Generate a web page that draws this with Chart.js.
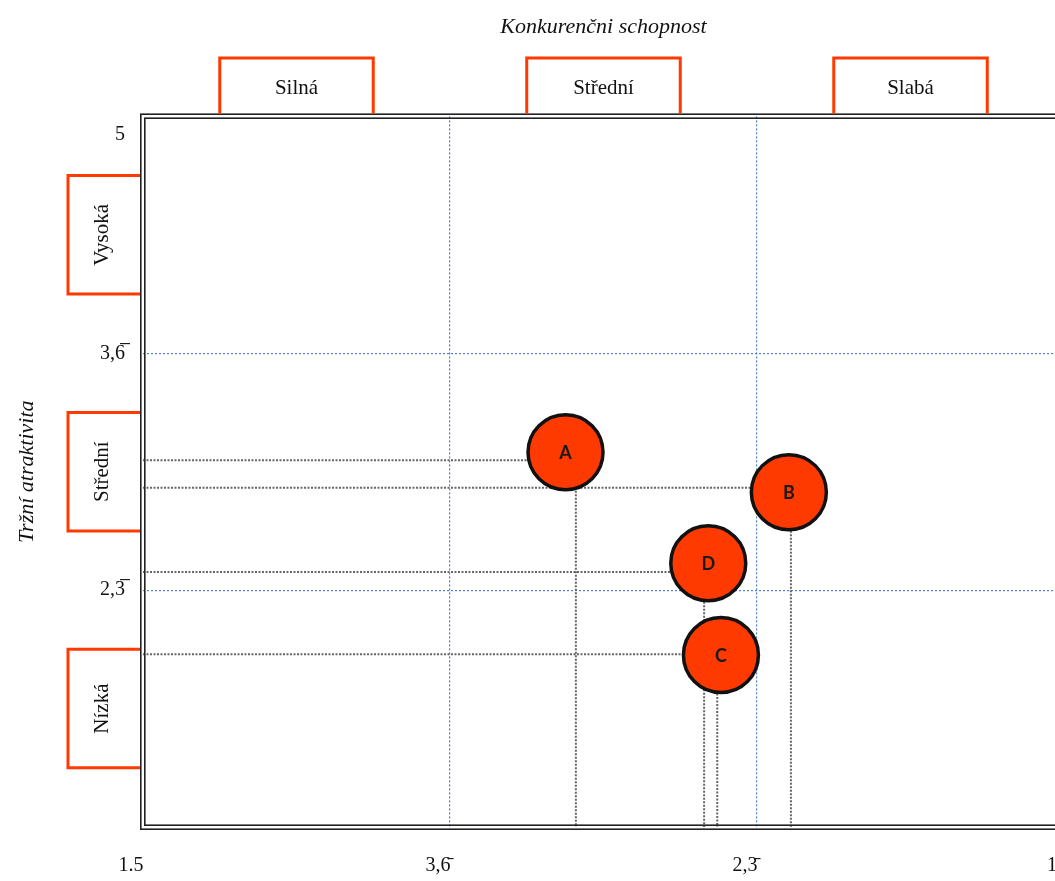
<!DOCTYPE html>
<html>
<head>
<meta charset="utf-8">
<script src="https://cdn.jsdelivr.net/npm/chart.js@4.4.1/dist/chart.umd.min.js"></script>
<style>
  html, body { margin: 0; padding: 0; background: #fff; overflow: hidden; }
  #wrap { width: 1105px; height: 881px; }
</style>
</head>
<body>
<div id="wrap"><canvas id="c" width="1105" height="881"></canvas></div>
<script>
// ---- data ----
const xTitle = 'Konkurenčni schopnost';
const yTitle = 'Tržní atraktivita';
const xCategories = ['Silná', 'Střední', 'Slabá'];          // left -> right
const yCategories = ['Vysoká', 'Střední', 'Nízká'];         // top -> bottom
const xTickValues = [5, 3.6667, 2.3333, 1];
const xTickLabels = ['1.5', '3,6\u0304', '2,3\u0304', '1'];
const yTickValues = [5, 3.6667, 2.3333, 1];
const yTickLabels = ['5', '3,6\u0305', '2,3\u0305', ''];
const unitNames = ['A', 'B', 'C', 'D'];
const unitX = [3.165, 2.195, 2.49, 2.545];   // competitive strength
const unitY = [3.11, 2.885, 1.968, 2.485];   // market attractiveness
const guideX = [3.12, 2.186, 2.506, 2.563];  // vertical drop lines
const guideY = [3.065, 2.91, 1.973, 2.435];  // horizontal drop lines

const RED = '#ff3a00';
const SERIF = '"Liberation Serif", "DejaVu Serif", serif';
const TICKFONT = '"Liberation Serif", serif';

const datasets = [{
  type: 'scatter',
  label: 'units',
  data: unitNames.map((n, i) => ({ x: unitX[i], y: unitY[i] })),
  pointRadius: 37.5,
  pointBackgroundColor: RED,
  pointBorderColor: '#111',
  pointBorderWidth: 3.5,
  order: 0
}];
unitNames.forEach((n, i) => {
  datasets.push({
    type: 'line', label: n + '-h',
    data: [{ x: 5, y: guideY[i] }, { x: unitX[i], y: guideY[i] }],
    borderColor: '#666', borderWidth: 2, borderDash: [2, 1.5],
    pointRadius: 0, fill: false, order: 2
  });
  datasets.push({
    type: 'line', label: n + '-v',
    data: [{ x: guideX[i], y: unitY[i] }, { x: guideX[i], y: 1 }],
    borderColor: '#666', borderWidth: 2, borderDash: [2, 1.5],
    pointRadius: 0, fill: false, order: 2
  });
});

const decor = {
  id: 'decor',
  afterDatasetsDraw(chart) {
    const { ctx, chartArea: ca, scales: { x, y } } = chart;
    ctx.save();
    // unit labels
    ctx.fillStyle = '#1a1a1a';
    ctx.font = 'bold 18px Lato, "Liberation Sans", sans-serif';
    ctx.textAlign = 'center';
    ctx.textBaseline = 'middle';
    unitNames.forEach((n, i) => {
      ctx.fillText(n, x.getPixelForValue(unitX[i]), y.getPixelForValue(unitY[i]) + 1);
    });
    // double border
    ctx.strokeStyle = '#222';
    ctx.lineWidth = 1.6;
    ctx.strokeRect(ca.left - 2.2, ca.top - 2.2, ca.width + 4.4, ca.height + 4.4);
    ctx.strokeRect(ca.left + 1.8, ca.top + 1.8, ca.width - 3.6, ca.height - 3.6);
    // top category boxes
    const b = xTickValues;
    ctx.strokeStyle = RED;
    ctx.lineWidth = 3;
    ctx.font = '21px ' + SERIF;
    ctx.fillStyle = '#111';
    xCategories.forEach((c, i) => {
      const p1 = x.getPixelForValue(b[i]), p2 = x.getPixelForValue(b[i + 1]);
      const cx = (p1 + p2) / 2, hw = (p2 - p1) / 4;
      ctx.beginPath();
      ctx.moveTo(cx - hw, ca.top - 3);
      ctx.lineTo(cx - hw, 58);
      ctx.lineTo(cx + hw, 58);
      ctx.lineTo(cx + hw, ca.top - 3);
      ctx.stroke();
      ctx.fillText(c, cx, 88);
    });
    // left category boxes
    const v = yTickValues;
    yCategories.forEach((c, i) => {
      const p1 = y.getPixelForValue(v[i]), p2 = y.getPixelForValue(v[i + 1]);
      const cy = (p1 + p2) / 2, hh = (p2 - p1) / 4;
      ctx.beginPath();
      ctx.moveTo(ca.left - 3, cy - hh);
      ctx.lineTo(68, cy - hh);
      ctx.lineTo(68, cy + hh);
      ctx.lineTo(ca.left - 3, cy + hh);
      ctx.stroke();
      ctx.save();
      ctx.translate(102, cy);
      ctx.rotate(-Math.PI / 2);
      ctx.fillText(c, 0, 0);
      ctx.restore();
    });
    ctx.restore();
  }
};

const gridColor = (c) => (c.tick && (c.tick.value === 5 || c.tick.value === 1)) ? 'rgba(0,0,0,0)' : '#4f81d0';

new Chart(document.getElementById('c'), {
  data: { datasets },
  options: {
    responsive: false,
    animation: false,
    events: [],
    layout: { padding: { left: 0, top: 0, right: 0, bottom: 0 } },
    plugins: {
      legend: { display: false },
      tooltip: { enabled: false },
      title: {
        display: true, text: xTitle, fullSize: false,
        color: '#111',
        font: { family: SERIF, size: 22, style: 'italic', weight: 'normal' },
        padding: { top: 14, bottom: 76 }
      }
    },
    scales: {
      x: {
        type: 'linear', position: 'bottom', reverse: true, min: 1, max: 5,
        afterBuildTicks: (s) => { s.ticks = xTickValues.map(v => ({ value: v })); },
        afterFit: (s) => { s.height = 54; },
        ticks: {
          autoSkip: false, maxRotation: 0, padding: 27, labelOffset: -12,
          color: '#111', font: { family: TICKFONT, size: 20 },
          callback: (val, idx) => xTickLabels[idx]
        },
        grid: { color: gridColor, lineWidth: 1.2, drawTicks: false },
        border: { display: false, dash: [2, 2] }
      },
      y: {
        type: 'linear', position: 'left', min: 1, max: 5,
        afterBuildTicks: (s) => { s.ticks = yTickValues.map(v => ({ value: v })); },
        afterFit: (s) => { s.width = 143; },
        title: {
          display: true, text: yTitle, color: '#111',
          font: { family: SERIF, size: 22, style: 'italic' },
          padding: { top: 14, bottom: 0 }
        },
        ticks: {
          autoSkip: false, padding: 18,
          color: '#111', font: { family: TICKFONT, size: 20, lineHeight: 1.8 },
          callback: (val, idx) => idx === 0 ? ['', yTickLabels[idx]] : yTickLabels[idx]
        },
        grid: { color: gridColor, lineWidth: 1.2, drawTicks: false },
        border: { display: false, dash: [2, 2] }
      }
    }
  },
  plugins: [decor]
});
</script>
</body>
</html>
